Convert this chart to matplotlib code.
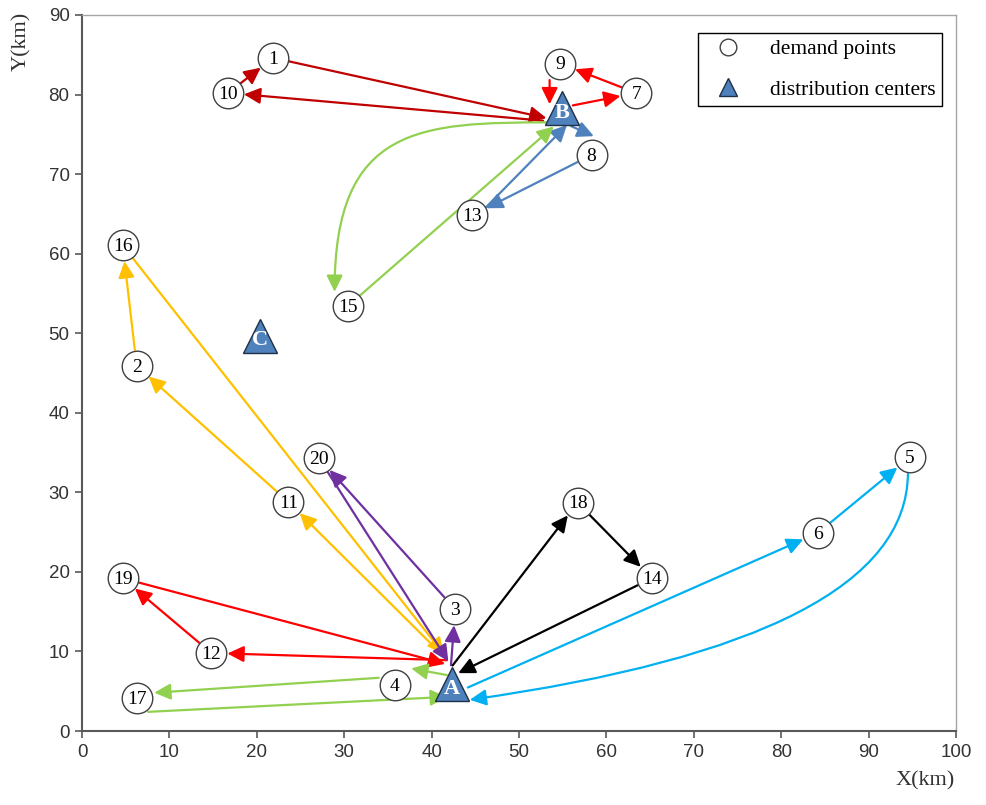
import matplotlib
matplotlib.use("Agg")
import matplotlib.pyplot as plt
from matplotlib.patches import FancyArrowPatch
from matplotlib.lines import Line2D
from matplotlib.path import Path

# demand points (km)
point_ids = [1, 2, 3, 4, 5, 6, 7, 8, 9, 10, 11, 12, 13, 14, 15, 16, 17, 18, 19, 20]
point_x = [21.9, 6.25, 42.7, 35.8, 94.7, 84.2, 63.4, 58.3, 54.7, 16.7,
           23.6, 14.8, 44.6, 65.2, 30.4, 4.65, 6.3, 56.7, 4.65, 27.1]
point_y = [84.6, 45.9, 15.3, 5.8, 34.4, 24.9, 80.2, 72.4, 83.9, 80.2,
           28.8, 9.8, 64.8, 19.2, 53.4, 61.05, 4.1, 28.7, 19.2, 34.3]

# distribution centers (km)
center_ids = ["A", "B", "C"]
center_x = [42.3, 54.9, 20.4]
center_y = [5.9, 78.3, 49.7]

# vehicle routes (start and end at a center)
route_a_red = ["A", 12, 19, "A"]
route_a_orange = ["A", 11, 2, 16, "A"]
route_a_purple = ["A", 3, 20, "A"]
route_a_black = ["A", 18, 14, "A"]
route_a_green = ["A", 4, 17, "A"]
route_a_cyan = ["A", 6, 5, "A"]
route_b_darkred = ["B", 10, 1, "B"]
route_b_red = ["B", 7, 9, "B"]
route_b_blue = ["B", 8, 13, "B"]
route_b_green = ["B", 15, "B"]

routes = [
    (route_a_red, "#FF0000"),
    (route_a_orange, "#FFC000"),
    (route_a_purple, "#7030A0"),
    (route_a_black, "#000000"),
    (route_a_green, "#92D050"),
    (route_a_cyan, "#00B0F0"),
    (route_b_darkred, "#C00000"),
    (route_b_red, "#FF0000"),
    (route_b_blue, "#4F81BD"),
    (route_b_green, "#92D050"),
]

# legs drawn as curves instead of straight lines
curved = {
    (5, "A"): "angle3,angleA=90,angleB=8",
}
# leg drawn as a cubic: leaves horizontally, arrives vertically
cubic = {
    ("B", 15): (0.6, 0.02),
}

# where a leg attaches on a marker edge (offset from marker centre, km);
# ends not listed are shrunk back from the centre instead
attach = {
    ("A", 12): ((-0.4, 3.0), None),
    (19, "A"): (None, (-0.6, 2.5)),
    ("A", 11): ((-1.2, 3.8), None),
    (16, "A"): (None, (-0.8, 3.6)),
    ("A", 3): ((-0.1, 2.2), None),
    (20, "A"): (None, (-0.3, 2.7)),
    ("A", 18): ((0.0, 2.2), None),
    (14, "A"): (None, (0.6, 1.3)),
    ("A", 4): ((-0.4, 1.1), (1.7, 2.1)),
    (4, 17): ((-1.7, 0.9), (1.8, 0.7)),
    (17, "A"): ((1.1, -1.7), (-0.4, -1.6)),
    ("A", 6): ((1.7, -0.5), None),
    (5, "A"): ((-0.2, -1.9), (1.9, -2.0)),
    ("B", 10): ((-2.0, -1.6), None),
    (1, "B"): (None, (-1.6, -1.3)),
    ("B", 7): ((1.1, 0.3), None),
    (9, "B"): ((-1.2, -1.9), (-1.4, 0.3)),
    ("B", 8): ((0.9, -2.2), (0.4, 2.3)),
    (13, "B"): ((1.5, 0.9), (0.7, -2.0)),
    ("B", 15): ((-1.4, -1.8), (-1.5, 1.8)),
    (15, "B"): (None, (-0.8, -2.2)),
}

pos = {}
for i, x, y in zip(point_ids, point_x, point_y):
    pos[i] = (x, y)
for c, x, y in zip(center_ids, center_x, center_y):
    pos[c] = (x, y)

serif = "Liberation Serif"
sans = "Liberation Sans"

fig = plt.figure(figsize=(9.86, 8.05), dpi=100)
ax = fig.add_axes([0.0832, 0.0919, 0.8864, 0.8895])


def end_point(node, off):
    x, y = pos[node]
    if off is None:
        return (x, y), (12 if isinstance(node, str) else 11.5)
    return (x + off[0], y + off[1]), 1


arrow_kw = dict(arrowstyle="-|>,head_length=0.55,head_width=0.27",
                mutation_scale=18, lw=1.6, zorder=3)

for route, color in routes:
    for a, b in zip(route[:-1], route[1:]):
        off_a, off_b = attach.get((a, b), (None, None))
        pa, shrink_a = end_point(a, off_a)
        pb, shrink_b = end_point(b, off_b)
        if (a, b) in cubic:
            fx, fy = cubic[(a, b)]
            c1 = (pa[0] - fx * (pa[0] - pb[0]), pa[1])
            c2 = (pb[0], pa[1] - fy * (pa[1] - pb[1]))
            path = Path([pa, c1, c2, pb],
                        [Path.MOVETO, Path.CURVE4, Path.CURVE4, Path.CURVE4])
            arr = FancyArrowPatch(path=path, color=color, **arrow_kw)
        else:
            arr = FancyArrowPatch(
                pa, pb, color=color,
                shrinkA=shrink_a, shrinkB=shrink_b,
                connectionstyle=curved.get((a, b), "arc3,rad=0"),
                **arrow_kw,
            )
        ax.add_patch(arr)

ax.plot(point_x, point_y, "o", ms=22, mfc="white", mec="#404040", mew=1.0,
        ls="none", zorder=5)
for i, x, y in zip(point_ids, point_x, point_y):
    ax.text(x, y - 0.15, str(i), ha="center", va="center", fontsize=14,
            family=serif, color="black", zorder=6)

ax.plot(center_x, center_y, "^", ms=24, mfc="#4F81BD", mec="#1F2F45", mew=1.0,
        ls="none", zorder=5)
for c, x, y in zip(center_ids, center_x, center_y):
    ax.text(x, y - 0.6, c, ha="center", va="center", fontsize=16,
            family=serif, fontweight="bold", color="white", zorder=6)

ax.set_xlim(0, 100)
ax.set_ylim(0, 90)
ax.set_xticks(range(0, 101, 10))
ax.set_yticks(range(0, 91, 10))
ax.tick_params(direction="out", length=5, width=1.2, color="#595959",
               labelsize=13.5, labelcolor="#333333", pad=4)
for lab in ax.get_xticklabels() + ax.get_yticklabels():
    lab.set_family(sans)
for side in ["left", "bottom"]:
    ax.spines[side].set_color("#595959")
    ax.spines[side].set_linewidth(1.5)
for side in ["top", "right"]:
    ax.spines[side].set_color("#a6a6a6")
    ax.spines[side].set_linewidth(1.0)

fig.text(0.968, 0.018, "X(km)", ha="right", va="bottom", fontsize=16,
         family=serif, color="#333333")
fig.text(0.022, 0.985, "Y(km)", ha="center", va="top", fontsize=16,
         family=serif, color="#333333", rotation=90)

handles = [
    Line2D([], [], marker="o", ls="none", ms=12, mfc="white", mec="#404040", mew=1.0),
    Line2D([], [], marker="^", ls="none", ms=13, mfc="#4F81BD", mec="#1F2F45", mew=1.0),
]
leg = ax.legend(handles, ["demand points", "distribution centers"],
                loc="upper right", bbox_to_anchor=(0.984, 0.975),
                borderaxespad=0, fancybox=False, framealpha=1,
                prop={"family": serif, "size": 15.5}, handlelength=2.2,
                handletextpad=0.85, labelspacing=0.95, borderpad=0.3)
leg.get_frame().set_edgecolor("black")
leg.get_frame().set_linewidth(1.0)

fig.savefig("out.png", dpi=100)
